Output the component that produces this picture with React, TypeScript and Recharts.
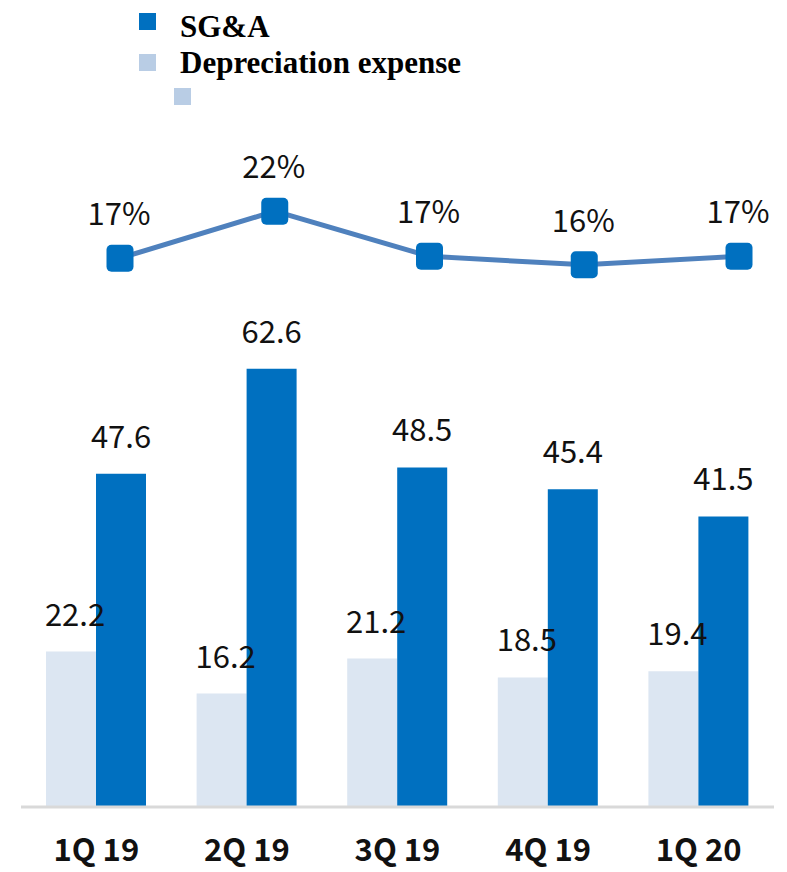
import React from 'react';
import { ComposedChart, Bar, Line, XAxis, YAxis, LabelList, Legend } from 'recharts';

const quarters = ['1Q 19', '2Q 19', '3Q 19', '4Q 19', '1Q 20'];
const depreciation = [22.2, 16.2, 21.2, 18.5, 19.4];
const sga = [47.6, 62.6, 48.5, 45.4, 41.5];
const sgaRatio = [17.0, 22.0, 17.2, 16.3, 17.2];
const ratioLabels = ['17%', '22%', '17%', '16%', '17%'];

const legendItems = [
  { name: 'SG&A', color: '#0070C0' },
  { name: 'Depreciation expense', color: '#B9CDE5' },
  { name: '', color: '#B9CDE5' },
];

const data = quarters.map((q, i) => ({
  q,
  dep: depreciation[i],
  sga: sga[i],
  ratio: sgaRatio[i],
  ratioLabel: ratioLabels[i],
}));

const NUM_FONT = '"Noto Sans CJK KR", "Noto Sans", sans-serif';

const LegendContent = () => (
  <svg width={787} height={120} style={{ display: 'block' }}>
    <rect x={139} y={13} width={17} height={17} fill={legendItems[0].color} />
    <text x={180} y={37} fontFamily='"Liberation Serif", serif' fontWeight="bold" fontSize={31} fill="#000">
      {legendItems[0].name}
    </text>
    <rect x={139} y={54} width={17} height={17} fill={legendItems[1].color} />
    <text x={180} y={73} fontFamily='"Liberation Serif", serif' fontWeight="bold" fontSize={31} fill="#000">
      {legendItems[1].name}
    </text>
    <rect x={174} y={88} width={17} height={17} fill={legendItems[2].color} />
  </svg>
);

const SquareDot = (props: any) => {
  const { cx, cy, index } = props;
  if (cx == null || cy == null) return null;
  return <rect key={`dot-${index}`} x={cx - 13.5} y={cy - 13.5} width={27} height={27} rx={5} ry={5} fill="#0070C0" />;
};

const RatioLabel = (props: any) => {
  const { x, y, index } = props;
  return (
    <text x={x - 1} y={y - 33} textAnchor="middle" fontFamily={NUM_FONT} fontSize={31} fill="#111">
      {ratioLabels[index]}
    </text>
  );
};

const makeBarLabel = (dx: number, dy: number) => (props: any) => {
  const { x, y, width, value } = props;
  return (
    <text x={x + width / 2 + dx} y={y - dy} textAnchor="middle" fontFamily={NUM_FONT} fontSize={31} fill="#111">
      {Number(value).toFixed(1)}
    </text>
  );
};

const XTick = (props: any) => {
  const { x, payload } = props;
  return (
    <text x={x} y={861} textAnchor="middle" fontFamily={NUM_FONT} fontWeight="bold" fontSize={31} fill="#111">
      {payload.value}
    </text>
  );
};

export default function App() {
  return (
    <div style={{ position: 'absolute', left: 0, top: 0, width: 787, height: 872, background: '#fff' }}>
      <ComposedChart
        width={787}
        height={872}
        data={data}
        margin={{ top: 10, right: 13, left: 21, bottom: 15 }}
        barGap={0}
      >
        <Legend
          verticalAlign="top"
          align="left"
          content={<LegendContent />}
          wrapperStyle={{ position: 'absolute', top: 0, left: 0, width: 787, height: 120 }}
        />
        <XAxis
          dataKey="q"
          xAxisId="bars"
          height={50}
          axisLine={{ stroke: '#D9D9D9', strokeWidth: 3 }}
          tickLine={false}
          tick={<XTick />}
          interval={0}
        />
        <XAxis
          dataKey="q"
          xAxisId="line"
          type="category"
          scale="point"
          padding={{ left: 99, right: 35 }}
          hide
        />
        <YAxis yAxisId="val" domain={[0, 96.71]} hide allowDataOverflow />
        <YAxis yAxisId="pct" domain={[-41.38, 30.64]} hide allowDataOverflow />
        <Bar dataKey="dep" xAxisId="bars" yAxisId="val" fill="#DCE6F2" barSize={50} isAnimationActive={false}>
          <LabelList dataKey="dep" content={makeBarLabel(4, 26)} />
        </Bar>
        <Bar dataKey="sga" xAxisId="bars" yAxisId="val" fill="#0070C0" barSize={50} isAnimationActive={false}>
          <LabelList dataKey="sga" content={makeBarLabel(0, 26)} />
        </Bar>
        <Line
          dataKey="ratio"
          xAxisId="line"
          yAxisId="pct"
          stroke="#4F81BD"
          strokeWidth={5}
          dot={<SquareDot />}
          activeDot={false}
          isAnimationActive={false}
        >
          <LabelList dataKey="ratio" content={<RatioLabel />} />
        </Line>
      </ComposedChart>
    </div>
  );
}
